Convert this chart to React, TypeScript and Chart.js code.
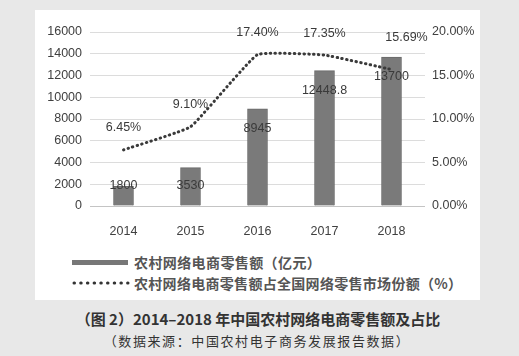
import React, { useEffect, useRef } from "react";
import { Chart, registerables } from "chart.js";

Chart.register(...registerables);

const years = ["2014", "2015", "2016", "2017", "2018"];
const salesValues = [1800, 3530, 8945, 12448.8, 13700];
const salesLabels = ["1800", "3530", "8945", "12448.8", "13700"];
const shareValues = [6.45, 9.1, 17.4, 17.35, 15.69];
const shareLabels = ["6.45%", "9.10%", "17.40%", "17.35%", "15.69%"];
const leftTicks = [0, 2000, 4000, 6000, 8000, 10000, 12000, 14000, 16000];
const rightTicks = [0, 5, 10, 15, 20];

const salesName = "农村网络电商零售额（亿元）";
const shareName = "农村网络电商零售额占全国网络零售市场份额（%）";
const captionTitle = "（图 2）2014–2018 年中国农村网络电商零售额及占比";
const captionSource = "（数据来源：中国农村电子商务发展报告数据）";

const FONT = "'Liberation Sans', Arial, sans-serif";
const CJK = "'Noto Sans CJK SC', sans-serif";

const labelPlugin = {
  id: "valueLabels",
  afterDatasetsDraw(chart: any) {
    const ctx = chart.ctx;
    ctx.save();
    ctx.font = "12.5px " + FONT;
    ctx.fillStyle = "#3a3a3a";
    ctx.textAlign = "center";
    ctx.textBaseline = "middle";
    const barMeta = chart.getDatasetMeta(1);
    barMeta.data.forEach((el: any, i: number) => {
      const y = Math.min(el.y + 20, el.base - 20);
      ctx.fillText(salesLabels[i], el.x, y);
    });
    const lineMeta = chart.getDatasetMeta(0);
    lineMeta.data.forEach((el: any, i: number) => {
      const last = i === lineMeta.data.length - 1;
      ctx.fillText(shareLabels[i], el.x + (last ? 15 : 0), el.y - (last ? 32 : 22));
    });
    ctx.restore();
  },
};

export default function App() {
  const ref = useRef<HTMLCanvasElement>(null);
  useEffect(() => {
    if (!ref.current) return;
    const chart = new Chart(ref.current, {
      type: "bar",
      data: {
        labels: years,
        datasets: [
          {
            type: "line",
            label: shareName,
            data: shareValues,
            yAxisID: "y1",
            borderColor: "#3a3a3a",
            borderWidth: 3,
            borderDash: [0.5, 4.3],
            borderCapStyle: "round",
            pointRadius: 0,
            tension: 0.1,
            fill: false,
            order: 0,
          } as any,
          {
            type: "bar",
            label: salesName,
            data: salesValues,
            yAxisID: "y",
            backgroundColor: "#7a7a7a",
            borderColor: "#6a6a6a",
            borderWidth: 1,
            barThickness: 20,
            order: 1,
          },
        ],
      },
      options: {
        responsive: false,
        animation: false,
        layout: { padding: { top: 22, left: 0, right: 0, bottom: 0 } },
        plugins: { legend: { display: false }, tooltip: { enabled: false } },
        scales: {
          x: {
            grid: { display: false },
            border: { display: false },
            ticks: { padding: 10, color: "#404040", font: { size: 12.5, family: FONT } },
            afterFit: (s: any) => { s.height = 34; },
          },
          y: {
            position: "left",
            min: 0,
            max: leftTicks[leftTicks.length - 1],
            afterBuildTicks: (s: any) => { s.ticks = leftTicks.map((v) => ({ value: v })); },
            grid: {
              drawTicks: false,
              color: (c: any) => (c.tick && c.tick.value === 0 ? "#c4c4c4" : "#dcdcdc"),
              lineWidth: 1,
            },
            border: { display: false },
            ticks: {
              padding: 8,
              color: "#404040",
              font: { size: 12.5, family: FONT },
              callback: (v: any) => String(v),
            },
            afterFit: (s: any) => { s.width = 55; },
          },
          y1: {
            position: "right",
            min: 0,
            max: rightTicks[rightTicks.length - 1],
            afterBuildTicks: (s: any) => { s.ticks = rightTicks.map((v) => ({ value: v })); },
            grid: { display: false, drawTicks: false },
            border: { display: false },
            ticks: {
              padding: 7,
              color: "#404040",
              font: { size: 12.5, family: FONT },
              callback: (v: any) => Number(v).toFixed(2) + "%",
            },
            afterFit: (s: any) => { s.width = 55; },
          },
        },
      } as any,
      plugins: [labelPlugin],
    });
    return () => chart.destroy();
  }, []);

  const legendText: React.CSSProperties = {
    position: "absolute",
    left: 99,
    height: 20,
    lineHeight: "20px",
    fontFamily: CJK,
    fontWeight: 700,
    fontSize: 14,
    color: "#555",
    whiteSpace: "nowrap",
  };

  return (
    <div style={{ position: "fixed", inset: 0, background: "#e8e8e8", overflow: "hidden" }}>
      <div style={{ position: "absolute", left: 35, top: 10, width: 445, height: 290, background: "#fff" }}>
        <canvas ref={ref} width={445} height={230} style={{ position: "absolute", left: 0, top: 0 }} />
        <div style={{ position: "absolute", left: 37, top: 250, width: 56, height: 5, background: "#777" }} />
        <div style={{ ...legendText, top: 242, letterSpacing: 0.4 }}>{salesName}</div>
        <svg style={{ position: "absolute", left: 36, top: 270 }} width={60} height={6}>
          <line x1={3} y1={3} x2={57} y2={3} stroke="#333" strokeWidth={3} strokeLinecap="round" strokeDasharray="0.5 6.2" />
        </svg>
        <div style={{ ...legendText, top: 263, letterSpacing: 0.3 }}>{shareName}</div>
      </div>
      <div
        style={{
          position: "absolute",
          left: 0,
          width: 516,
          top: 309,
          lineHeight: "20px",
          textAlign: "center",
          fontFamily: CJK,
          fontWeight: 700,
          fontSize: 15,
          color: "#333",
          whiteSpace: "nowrap",
        }}
      >
        {captionTitle}
      </div>
      <div
        style={{
          position: "absolute",
          left: 0,
          width: 514,
          top: 331,
          lineHeight: "20px",
          textAlign: "center",
          fontFamily: CJK,
          fontSize: 13,
          letterSpacing: 1.6,
          color: "#333",
          whiteSpace: "nowrap",
        }}
      >
        {captionSource}
      </div>
    </div>
  );
}
